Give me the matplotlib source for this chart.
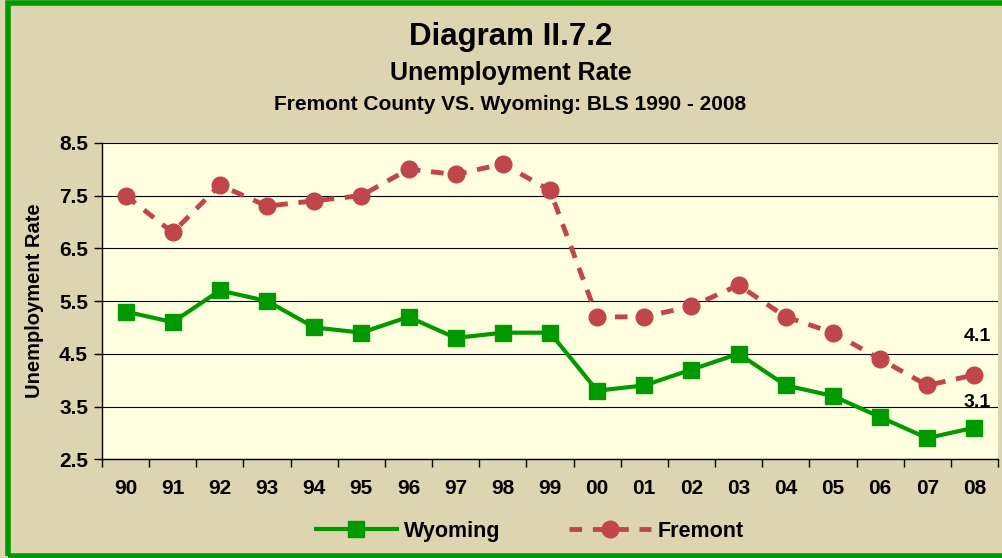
import matplotlib.pyplot as plt
from matplotlib.patches import Rectangle

# Data
years = ["90", "91", "92", "93", "94", "95", "96", "97", "98", "99",
         "00", "01", "02", "03", "04", "05", "06", "07", "08"]
wyoming = [5.3, 5.1, 5.7, 5.5, 5.0, 4.9, 5.2, 4.8, 4.9, 4.9,
           3.8, 3.9, 4.2, 4.5, 3.9, 3.7, 3.3, 2.9, 3.1]
fremont = [7.5, 6.8, 7.7, 7.3, 7.4, 7.5, 8.0, 7.9, 8.1, 7.6,
           5.2, 5.2, 5.4, 5.8, 5.2, 4.9, 4.4, 3.9, 4.1]
y_ticks = [2.5, 3.5, 4.5, 5.5, 6.5, 7.5, 8.5]

plt.rcParams["font.family"] = ["Liberation Sans", "DejaVu Sans"]
plt.rcParams["font.weight"] = "bold"

bg = "#DDD5B0"
green = "#009900"
red = "#C0464A"

fig = plt.figure(figsize=(10.03, 5.58), dpi=100, facecolor=bg)
fig.patches.append(Rectangle((0.008, 0.004), 1.2, 0.99, transform=fig.transFigure,
                             fill=False, edgecolor=green, linewidth=4))

ax = fig.add_axes([0.1017, 0.177, 0.8933, 0.567])
ax.set_facecolor("#FFFFE0")

x = list(range(len(years)))
ax.plot(x, wyoming, color=green, linewidth=3, marker="s", markersize=12,
        label="Wyoming", zorder=3)
ax.plot(x, fremont, color=red, linewidth=3.5, linestyle=(0, (2.6, 2.2)),
        marker="o", markersize=12, label="Fremont", zorder=3)

# end-point value labels
ax.annotate(f"{fremont[-1]}", (x[-1], fremont[-1]), xytext=(3, 38),
            textcoords="offset pixels", ha="center", va="center",
            fontsize=14, fontweight="bold")
ax.annotate(f"{wyoming[-1]}", (x[-1], wyoming[-1]), xytext=(3, 25),
            textcoords="offset pixels", ha="center", va="center",
            fontsize=14, fontweight="bold")

ax.set_xlim(-0.5, len(years) - 0.5)
ax.set_ylim(2.5, 8.5)
ax.set_yticks(y_ticks)
ax.set_yticklabels([f"{v}" for v in y_ticks], fontsize=15, fontweight="bold")
ax.set_xticks(x)
ax.set_xticklabels(years, fontsize=15, fontweight="bold")
ax.set_xticks([i - 0.5 for i in range(len(years) + 1)], minor=True)
ax.tick_params(axis="x", which="major", length=0, pad=14)
ax.tick_params(axis="x", which="minor", length=6, width=1, direction="out")
ax.tick_params(axis="y", length=6, width=1, direction="out", pad=4)
ax.grid(axis="y", color="black", linewidth=0.8)
for side in ["top", "right"]:
    ax.spines[side].set_visible(False)
ax.spines["left"].set_linewidth(1)
ax.spines["bottom"].set_linewidth(1)

ax.set_ylabel("Unemployment Rate", fontsize=14.5, fontweight="bold", labelpad=11)

fig.text(0.509, 0.933, "Diagram II.7.2", ha="center", va="center",
         fontsize=22.5, fontweight="bold")
fig.text(0.509, 0.869, "Unemployment Rate", ha="center", va="center",
         fontsize=18, fontweight="bold")
fig.text(0.509, 0.812, "Fremont County VS. Wyoming: BLS 1990 - 2008",
         ha="center", va="center", fontsize=15, fontweight="bold")

leg = fig.legend(loc="center", bbox_to_anchor=(0.528, 0.048), ncol=2,
                 frameon=False, fontsize=15.5, handlelength=3.8, columnspacing=3.2,
                 handletextpad=0.3)
for t in leg.get_texts():
    t.set_fontweight("bold")

fig.savefig("out.png", dpi=100, facecolor=bg)
